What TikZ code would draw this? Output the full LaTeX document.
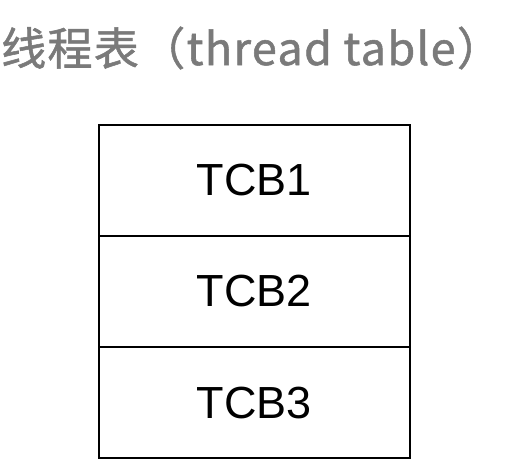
\documentclass[tikz,border=0pt]{standalone}
\usepackage{fontspec}
\setsansfont{Liberation Sans}
\newfontfamily\cjkfont[FakeBold=1.2,LetterSpace=3]{Noto Sans CJK SC}
\usetikzlibrary{positioning}

\tikzset{
  tcbrow/.style={shape=rectangle,draw=black,line width=1.5pt,minimum width=311pt,minimum height=111pt,inner sep=0pt,font=\sffamily\fontsize{45}{54}\selectfont},
  tabletitle/.style={text=black!52,inner sep=0pt,anchor=west,font=\cjkfont\fontsize{45}{54}\selectfont}
}

\begin{document}
\begin{tikzpicture}[x=1pt,y=-1pt]
\useasboundingbox (0,0) rectangle (505,472);
\node[tabletitle] (title) at (1,48) {线程表（thread table）};
\node[tcbrow] (tcb1) at (254.5,180.5) {TCB1};
\node[tcbrow] (tcb2) at (254.5,291.5) {TCB2};
\node[tcbrow] (tcb3) at (254.5,402.5) {TCB3};
\end{tikzpicture}
\end{document}
